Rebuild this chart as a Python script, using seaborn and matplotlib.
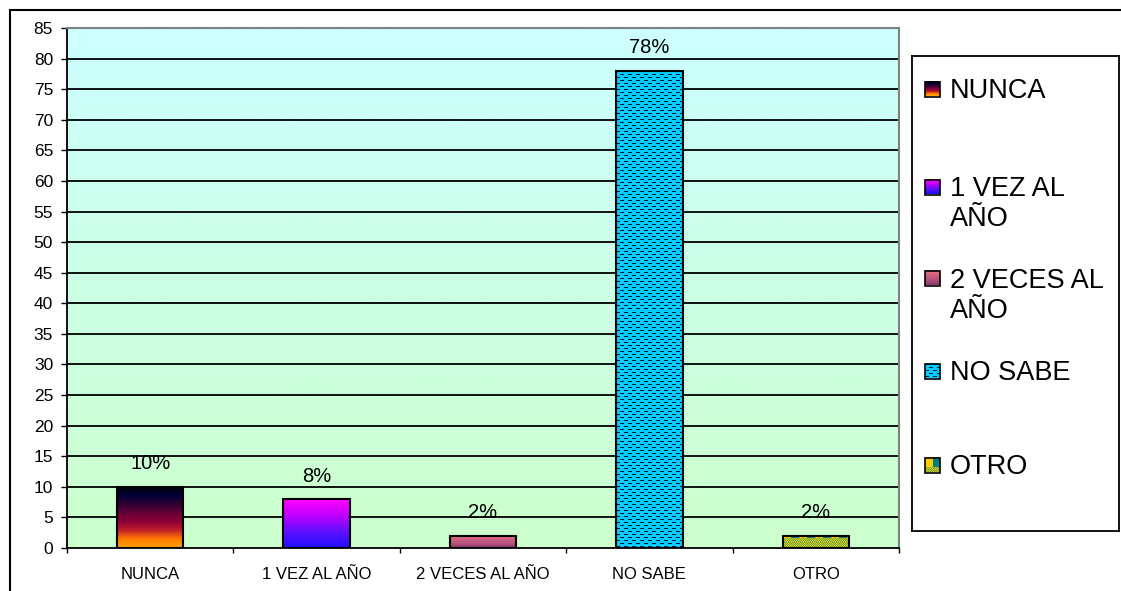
import numpy as np
import pandas as pd
import matplotlib
matplotlib.use("Agg")
import matplotlib.pyplot as plt
from matplotlib.colors import LinearSegmentedColormap, to_rgb
from matplotlib.patches import Rectangle
import seaborn as sns

# datos
categorias = ["NUNCA", "1 VEZ AL AÑO", "2 VECES AL AÑO", "NO SABE", "OTRO"]
valores = [10, 8, 2, 78, 2]
etiquetas = ["10%", "8%", "2%", "78%", "2%"]
leyenda = ["NUNCA", "1 VEZ AL\nAÑO", "2 VECES AL\nAÑO", "NO SABE", "OTRO"]
yticks = list(range(0, 90, 5))

colores_base = ["#400030", "#A000FF", "#C06080", "#00CCFF", "#B0B840"]
degradados = {
    0: ["#000000", "#000038", "#2a0030", "#600038", "#900035", "#C02028", "#FF7A00", "#FFA000"],
    1: ["#FF00FF", "#C000FF", "#6010FF", "#2010FF"],
    2: ["#F07080", "#C05A80", "#903870"],
}

sns.set_style("white")
plt.rcParams["font.family"] = ["Liberation Sans", "DejaVu Sans"]
plt.rcParams["text.color"] = "black"
plt.rcParams["xtick.color"] = "black"
plt.rcParams["ytick.color"] = "black"


def degradado(colores, h, w):
    cmap = LinearSegmentedColormap.from_list("g", colores)
    t = np.linspace(0, 1, max(h, 2))[:, None] * np.ones((1, max(w, 2)))
    return cmap(t)[:, :, :3]


def textura_no_sabe(h, w):
    img = np.ones((h, w, 3)) * np.array(to_rgb("#00CCFF"))
    yy, xx = np.mgrid[0:h, 0:w]
    desp = 4 * ((yy // 3) % 2)
    mask = (yy % 3 == 1) & (((xx + desp) % 8) < 4)
    img[mask] = to_rgb("#001828")
    return img


def textura_otro(h, w, franja):
    img = np.empty((h, w, 3))
    yy, xx = np.mgrid[0:h, 0:w]
    cheq = (xx + yy) % 2 == 0
    img[cheq] = to_rgb("#D8CC20")
    img[~cheq] = to_rgb("#70A040")
    top = yy < franja
    bloque = (xx // 8) % 2 == 0
    img[top & bloque] = to_rgb("#FFCC00")
    img[top & ~bloque] = to_rgb("#008080")
    return img


def textura(i, h, w, franja=3):
    if i in degradados:
        return degradado(degradados[i], h, w)
    if i == 3:
        return textura_no_sabe(h, w)
    return textura_otro(h, w, franja)


W, H = 1121, 591
fig = plt.figure(figsize=(W / 100, H / 100), dpi=100)
ax = fig.add_axes([67 / W, 1 - 548 / H, (899 - 67) / W, (548 - 28) / H])

df = pd.DataFrame({"cat": categorias, "val": valores})
sns.barplot(data=df, x="cat", y="val", hue="cat", palette=colores_base,
            width=0.4, edgecolor="black", linewidth=1.5, legend=False,
            ax=ax, zorder=3)

ax.set_xlim(-0.5, 4.5)
ax.set_ylim(0, 85)

# fondo degradado cyan -> verde
ax.patch.set_alpha(0)
ax.imshow(degradado(["#CCFFFF", "#CCFFCC"], 256, 2), extent=[-0.5, 4.5, 0, 85],
          aspect="auto", origin="upper", zorder=0)

for y in yticks[1:-1]:
    ax.axhline(y, color="black", lw=1.3, zorder=1)

# rellenos de las barras
for i, p in enumerate(ax.patches):
    x0, w, h = p.get_x(), p.get_width(), p.get_height()
    (px0, py0), (px1, py1) = ax.transData.transform([(x0, 0), (x0 + w, h)])
    nw, nh = int(round(px1 - px0)), int(round(py1 - py0))
    img = textura(i, nh, nw)
    im = ax.imshow(img, extent=[x0, x0 + w, 0, h], aspect="auto", origin="upper",
                   interpolation="nearest", zorder=2)
    im.set_clip_path(p)
    p.set_facecolor("none")
    ax.annotate(etiquetas[i], (x0 + w / 2, h), xytext=(0, 16.5), textcoords="offset points",
                ha="center", va="center", fontsize=14.5, color="black")

ax.set_xlim(-0.5, 4.5)
ax.set_ylim(0, 85)
ax.set_yticks(yticks)
ax.set_xticks(range(len(categorias)))
ax.set_xticklabels(categorias)
ax.set_xticks(np.arange(-0.5, 5, 1), minor=True)
ax.set_xlabel("")
ax.set_ylabel("")
ax.tick_params(axis="y", direction="out", length=4.5, width=1, pad=5.5,
               labelsize=12.5, left=True, colors="black")
ax.tick_params(axis="x", which="major", length=0, pad=14, labelsize=12, colors="black")
ax.tick_params(axis="x", which="minor", direction="out", length=3.8, width=1, bottom=True,
               colors="black")

for s in ["left", "bottom"]:
    ax.spines[s].set_color("black")
    ax.spines[s].set_linewidth(1.3)
for s in ["top", "right"]:
    ax.spines[s].set_color("#808080")
    ax.spines[s].set_linewidth(1.5)
    ax.spines[s].set_visible(True)

# leyenda
ax_leg = fig.add_axes([912 / W, 1 - 531 / H, 207 / W, 475 / H])
ax_leg.set_xlim(0, 207)
ax_leg.set_ylim(475, 0)
ax_leg.set_xticks([])
ax_leg.set_yticks([])
for s in ax_leg.spines.values():
    s.set_color("black")
    s.set_linewidth(1.3)
    s.set_visible(True)

centros = [33, 131, 222, 315, 409]
for i, (txt, yc) in enumerate(zip(leyenda, centros)):
    img = textura(i, 15, 15, franja=10)
    ax_leg.imshow(img, extent=[13, 28, yc + 7.5, yc - 7.5], origin="upper",
                  interpolation="nearest", aspect="auto", zorder=2)
    ax_leg.add_patch(Rectangle((13, yc - 7.5), 15, 15, fill=False, ec="black", lw=1.2, zorder=3))
    for j, linea in enumerate(txt.split("\n")):
        ax_leg.text(38, yc + 9.5 + 30 * j, linea, fontsize=19.5, va="baseline", ha="left",
                    color="black")
ax_leg.set_xlim(0, 207)
ax_leg.set_ylim(475, 0)

# marco exterior
fig.add_artist(Rectangle((10 / W, -0.05), 1.0, 1 - 10 / H + 0.05, transform=fig.transFigure,
                         fill=False, ec="black", lw=1.5))

fig.savefig("out.png", dpi=100)
